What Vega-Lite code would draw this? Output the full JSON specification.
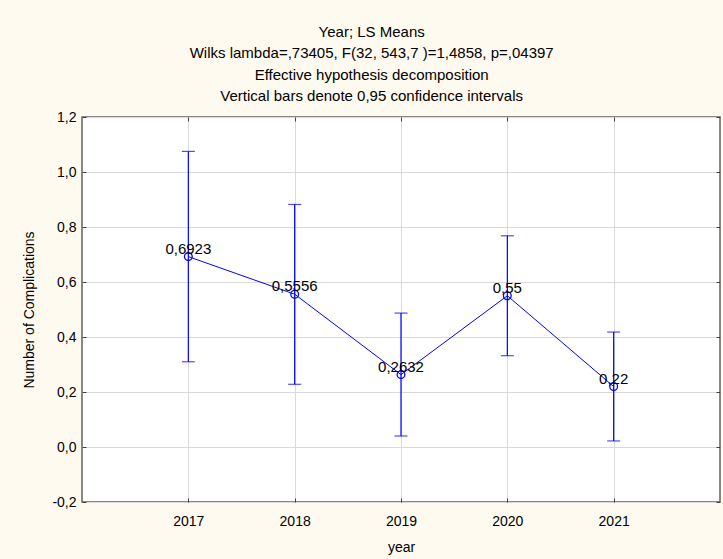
{
  "$schema": "https://vega.github.io/schema/vega-lite/v6.json",
  "width": 638,
  "height": 385,
  "autosize": {"type": "none"},
  "padding": {"left": 82, "top": 117, "right": 3, "bottom": 57},
  "background": "#FFFAF0",
  "config": {
    "locale": {"number": {"decimal": ",", "thousands": ".", "grouping": [3], "currency": ["", ""], "minus": "-"}},
    "font": "Liberation Sans",
    "view": {"fill": "white", "stroke": "#606060", "strokeWidth": 1.5},
    "axis": {
      "labelFont": "Liberation Sans",
      "labelFontSize": 14,
      "labelColor": "black",
      "titleFont": "Liberation Sans",
      "titleFontSize": 14,
      "titleFontWeight": "normal",
      "titleColor": "black",
      "domain": false,
      "tickColor": "#404040",
      "tickSize": -4,
      "gridColor": "#d9d9d9",
      "gridWidth": 1
    }
  },
  "title": {
    "text": ["Year; LS Means", "Wilks lambda=,73405, F(32, 543,7 )=1,4858, p=,04397", "Effective hypothesis decomposition", "Vertical bars denote 0,95 confidence intervals"],
    "font": "Liberation Sans",
    "fontSize": 15,
    "fontWeight": "normal",
    "color": "black",
    "lineHeight": 21.5,
    "anchor": "middle",
    "frame": "bounds",
    "offset": 6
  },
  "data": {
    "values": [
      {"year": 2017, "mean": 0.6923, "lower": 0.31, "upper": 1.075},
      {"year": 2018, "mean": 0.5556, "lower": 0.228, "upper": 0.882},
      {"year": 2019, "mean": 0.2632, "lower": 0.04, "upper": 0.487},
      {"year": 2020, "mean": 0.55, "lower": 0.332, "upper": 0.768},
      {"year": 2021, "mean": 0.22, "lower": 0.022, "upper": 0.418}
    ]
  },
  "resolve": {"axis": {"x": "independent", "y": "independent"}},
  "layer": [
    {
      "mark": {"type": "rule", "color": "#0000ff", "strokeWidth": 1.2},
      "encoding": {
        "x": {"field": "year", "type": "quantitative", "scale": {"domain": [2016, 2022], "nice": false, "zero": false},
          "axis": {"values": [2017, 2018, 2019, 2020, 2021], "format": "d", "title": "year", "labelPadding": 16, "titlePadding": 12, "grid": true}},
        "y": {"field": "lower", "type": "quantitative", "scale": {"domain": [-0.2, 1.2], "nice": false, "zero": false},
          "axis": {"values": [-0.2, 0, 0.2, 0.4, 0.6, 0.8, 1.0, 1.2], "format": ".1f", "title": "Number of Complications", "labelPadding": 10, "titlePadding": 15, "grid": true}},
        "y2": {"field": "upper"}
      }
    },
    {
      "mark": {"type": "tick", "orient": "horizontal", "color": "#0000ff", "size": 13, "thickness": 1.2},
      "encoding": {
        "x": {"field": "year", "type": "quantitative", "axis": null},
        "y": {"field": "lower", "type": "quantitative", "axis": null}
      }
    },
    {
      "mark": {"type": "tick", "orient": "horizontal", "color": "#0000ff", "size": 13, "thickness": 1.2},
      "encoding": {
        "x": {"field": "year", "type": "quantitative", "axis": null},
        "y": {"field": "upper", "type": "quantitative", "axis": null}
      }
    },
    {
      "mark": {"type": "line", "color": "#0000ff", "strokeWidth": 1},
      "encoding": {
        "x": {"field": "year", "type": "quantitative",
          "axis": {"orient": "top", "values": [2017, 2018, 2019, 2020, 2021], "labels": false, "title": null, "grid": false}},
        "y": {"field": "mean", "type": "quantitative",
          "axis": {"orient": "right", "values": [-0.2, 0, 0.2, 0.4, 0.6, 0.8, 1.0, 1.2], "labels": false, "title": null, "grid": false}}
      }
    },
    {
      "mark": {"type": "point", "shape": "circle", "filled": false, "color": "#0000ff", "size": 60, "strokeWidth": 1.3, "opacity": 1},
      "encoding": {
        "x": {"field": "year", "type": "quantitative", "axis": null},
        "y": {"field": "mean", "type": "quantitative", "axis": null}
      }
    },
    {
      "mark": {"type": "text", "fontSize": 15, "color": "black", "baseline": "alphabetic", "align": "center", "dy": -3, "font": "Liberation Sans"},
      "encoding": {
        "x": {"field": "year", "type": "quantitative", "axis": null},
        "y": {"field": "mean", "type": "quantitative", "axis": null},
        "text": {"field": "mean", "type": "quantitative", "format": ".4~f"}
      }
    }
  ]
}
